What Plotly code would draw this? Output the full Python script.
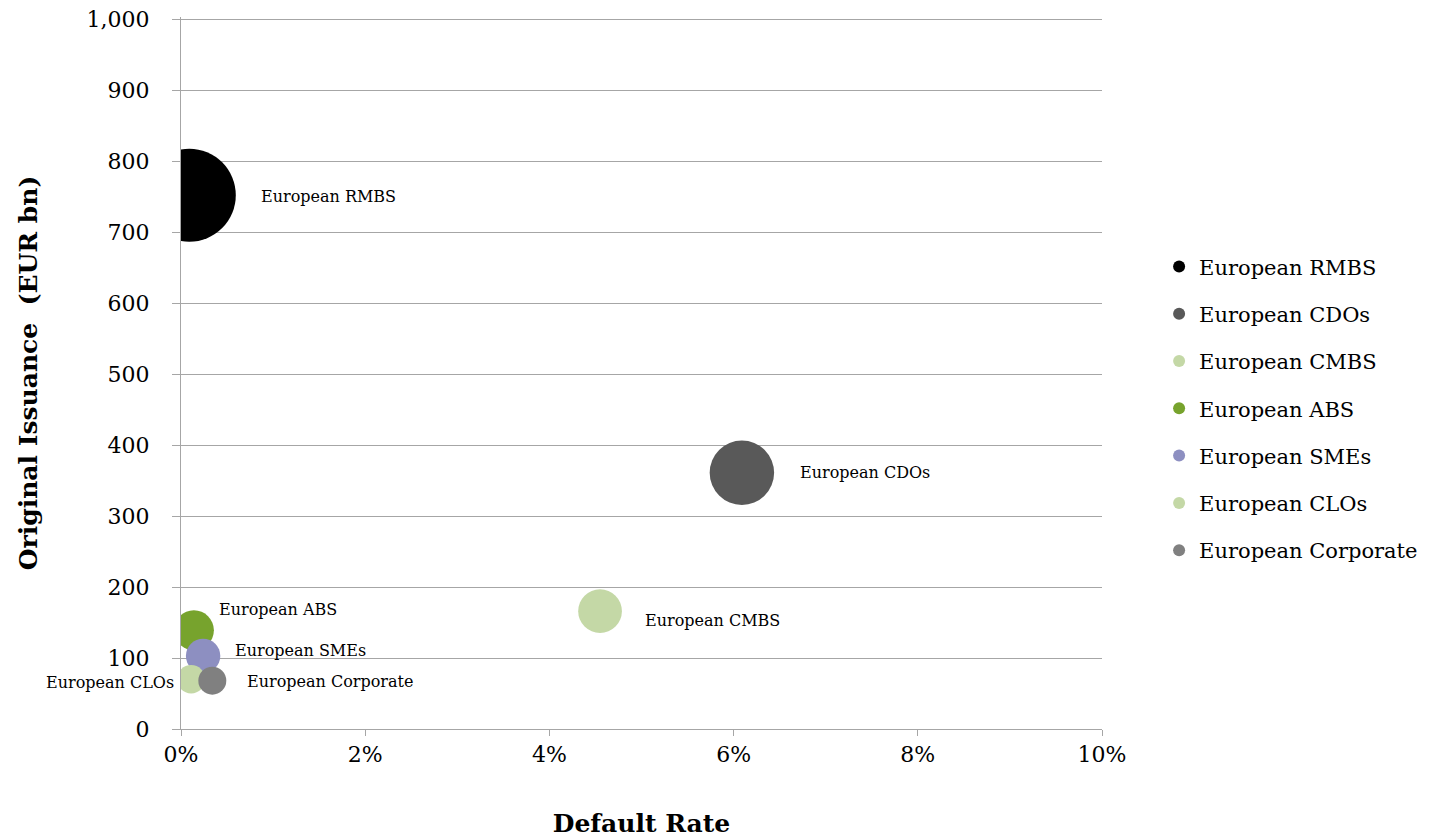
import plotly.graph_objects as go

# Securitisation segments: default rate (%) vs original issuance (EUR bn)
segments = ["European RMBS", "European CDOs", "European CMBS", "European ABS",
            "European SMEs", "European CLOs", "European Corporate"]
default_rate = [0.09, 6.09, 4.55, 0.14, 0.24, 0.11, 0.34]
issuance = [752, 361, 166, 139, 103, 70, 68]
colors = ["#000000", "#595959", "#c4d8a6", "#77a32d", "#8d8fc1", "#c4d8a6", "#808080"]

x_ticks = [0, 2, 4, 6, 8, 10]
x_tick_labels = ["0%", "2%", "4%", "6%", "8%", "10%"]
y_ticks = list(range(0, 1001, 100))

FONT = "DejaVu Serif"
MAX_DIAMETER = 93
# bubble area proportional to issuance; largest bubble gets MAX_DIAMETER px
sizeref = 2 * max(issuance) / MAX_DIAMETER ** 2

# label offsets (px) relative to each bubble centre: (xshift, yshift, anchor)
label_offsets = {
    "European RMBS": (70, -1, "left"),
    "European CDOs": (56, 0, "left"),
    "European CMBS": (43, -9, "left"),
    "European ABS": (23, 21, "left"),
    "European SMEs": (30, 5, "left"),
    "European CLOs": (-15, -3, "right"),
    "European Corporate": (33, -1, "left"),
}

fig = go.Figure()
for name, xv, yv, c in zip(segments, default_rate, issuance, colors):
    fig.add_trace(go.Scatter(
        x=[xv], y=[yv], name=name, mode="markers",
        legendgroup=name,
        marker=dict(size=[yv], sizemode="area", sizeref=sizeref,
                    color=c, line=dict(width=0), opacity=1),
        cliponaxis=True,
        hoverinfo="name+x+y",
    ))
    dx, dy, anchor = label_offsets[name]
    fig.add_annotation(
        x=xv, y=yv, xref="x", yref="y", text=name, showarrow=False,
        xanchor=anchor, yanchor="middle", xshift=dx, yshift=dy,
        font=dict(family=FONT, size=16, color="#000000"),
    )

fig.update_layout(
    width=1438, height=838,
    margin=dict(l=181, r=336, t=17, b=109),
    paper_bgcolor="white", plot_bgcolor="white",
    font=dict(family=FONT, color="#000000"),
    showlegend=True,
    legend=dict(
        x=1.062, xanchor="left", y=0.678, yanchor="top",
        font=dict(family=FONT, size=21, color="#000000"),
        itemsizing="constant", tracegroupgap=17,
        bgcolor="rgba(0,0,0,0)",
    ),
)

fig.update_xaxes(
    range=[0, 10], tickvals=x_ticks, ticktext=x_tick_labels,
    showgrid=False, zeroline=False,
    showline=True, linecolor="#a6a6a6", linewidth=1,
    ticks="outside", ticklen=6, tickcolor="#a6a6a6",
    tickfont=dict(family=FONT, size=22, color="#000000"),
    title=dict(text="<b>Default Rate</b>", font=dict(family=FONT, size=25, color="#000000"),
               standoff=48),
    automargin=False,
)
fig.update_yaxes(
    range=[0, 1003], tickvals=y_ticks, tickformat=",",
    showgrid=True, gridcolor="#a6a6a6", gridwidth=1,
    zeroline=False,
    showline=True, linecolor="#a6a6a6", linewidth=1,
    ticks="outside", ticklen=8, tickcolor="#a6a6a6",
    tickfont=dict(family=FONT, size=22, color="#000000"),
    ticklabelstandoff=18,
    title=dict(text="<b>Original Issuance \u00a0(EUR bn)</b>",
               font=dict(family=FONT, size=25, color="#000000"), standoff=41),
    automargin=False,
)

fig.write_html("out.html")
